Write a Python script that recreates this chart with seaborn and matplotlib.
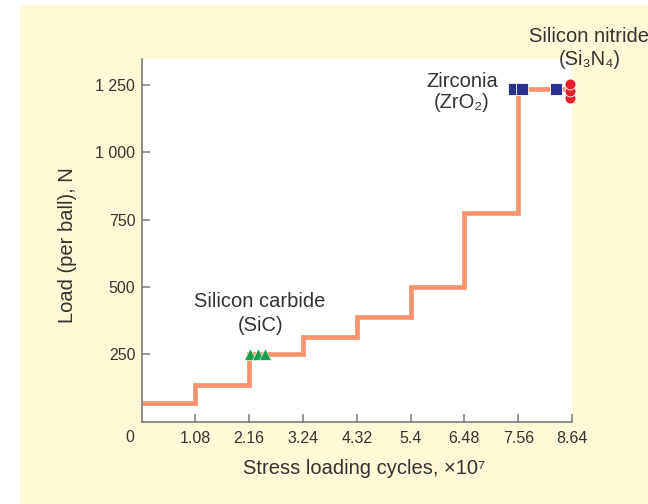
import matplotlib
matplotlib.use("Agg")
import matplotlib.pyplot as plt
from matplotlib.patches import Rectangle
import seaborn as sns
import pandas as pd

# step loading schedule (cycles x1e7, load N)
step_cycles = [0, 1.08, 2.16, 3.24, 4.32, 5.4, 6.48, 7.56, 8.6]
step_loads = [67, 134, 250, 312, 389, 499, 773, 1235, 1235]

# failure points
sic_cycles = [2.18, 2.33, 2.48]
sic_loads = [250, 250, 250]
zro2_cycles = [7.48, 7.64, 8.31]
zro2_loads = [1235, 1235, 1235]
si3n4_cycles = [8.6, 8.6, 8.6]
si3n4_loads = [1201, 1226, 1254]

xtick_vals = [1.08, 2.16, 3.24, 4.32, 5.4, 6.48, 7.56, 8.64]
xtick_labels = ["1.08", "2.16", "3.24", "4.32", "5.4", "6.48", "7.56", "8.64"]
ytick_vals = [250, 500, 750, 1000, 1250]
ytick_labels = ["250", "500", "750", "1 000", "1 250"]

sns.set_theme(style="ticks")
plt.rcParams['font.family'] = ['Liberation Sans', 'DejaVu Sans']

txt = "#333333"
axis_gray = "#7a7a7a"
tick_fs = 11.5
label_fs = 14.5

fig = plt.figure(figsize=(6.48, 5.04), dpi=100)
fig.patch.set_facecolor("white")
fig.add_artist(Rectangle((20 / 648, 0), 1, 1 - 5 / 504, transform=fig.transFigure,
                         facecolor="#FFF9D8", edgecolor="none", zorder=-1))

ax = fig.add_axes([141.5 / 648, 1 - 421.5 / 504, 430.5 / 648, 362.5 / 504])
ax.set_facecolor("white")

steps = pd.DataFrame({"cycles": step_cycles, "load": step_loads})
sns.lineplot(data=steps, x="cycles", y="load", ax=ax, color="#F7936F",
             linewidth=3.4, drawstyle="steps-post", estimator=None, sort=False,
             solid_joinstyle="miter", zorder=2)

sns.scatterplot(x=sic_cycles, y=sic_loads, ax=ax, marker="^", s=70,
                color="#12A04A", edgecolor="white", linewidth=0.4, zorder=3,
                clip_on=False)
sns.scatterplot(x=zro2_cycles, y=zro2_loads, ax=ax, marker="s", s=64,
                color="#2B3190", edgecolor="white", linewidth=0.6, zorder=3,
                clip_on=False)
sns.scatterplot(x=si3n4_cycles, y=si3n4_loads, ax=ax, marker="o", s=62,
                color="#E8202A", edgecolor="white", linewidth=0.6, zorder=3,
                clip_on=False)

ax.set_xlim(0, 8.64)
ax.set_ylim(0, 1346)

ax.set_xticks(xtick_vals)
ax.set_xticklabels(xtick_labels)
ax.set_yticks(ytick_vals)
ax.set_yticklabels(ytick_labels)

sns.despine(ax=ax)
for side in ["left", "bottom"]:
    ax.spines[side].set_color(axis_gray)
    ax.spines[side].set_linewidth(1.2)

ax.tick_params(axis="x", direction="in", length=6, width=1.1, color=axis_gray,
               labelsize=tick_fs, labelcolor=txt, pad=6.5)
ax.tick_params(axis="y", direction="in", length=6, width=1.1, color=axis_gray,
               labelsize=tick_fs, labelcolor=txt, pad=4.5)

ax.annotate("0", xy=(0, 0), xycoords="axes fraction", xytext=(-8.3, -11.2),
            textcoords="offset points", ha="center", va="center",
            fontsize=tick_fs, color=txt)

ax.set_xlabel("Stress loading cycles, \u00d710\u2077", fontsize=label_fs, color=txt)
ax.set_ylabel("Load (per ball), N", fontsize=label_fs, color=txt)
ax.xaxis.set_label_coords(0.517, -0.103)
ax.yaxis.set_label_coords(-0.149, 0.487)

ax.text(2.38, 444, "Silicon carbide", ha="center", va="center", fontsize=label_fs, color=txt)
ax.text(2.38, 358, "(SiC)", ha="center", va="center", fontsize=label_fs, color=txt)
ax.text(6.43, 1262, "Zirconia", ha="center", va="center", fontsize=label_fs, color=txt)
ax.text(6.43, 1183, "(ZrO\u2082)", ha="center", va="center", fontsize=label_fs, color=txt)
ax.text(8.99, 1428, "Silicon nitride", ha="center", va="center", fontsize=label_fs,
        color=txt, clip_on=False)
ax.text(8.99, 1345, "(Si\u2083N\u2084)", ha="center", va="center", fontsize=label_fs,
        color=txt, clip_on=False)

fig.savefig("out.png", dpi=100)
